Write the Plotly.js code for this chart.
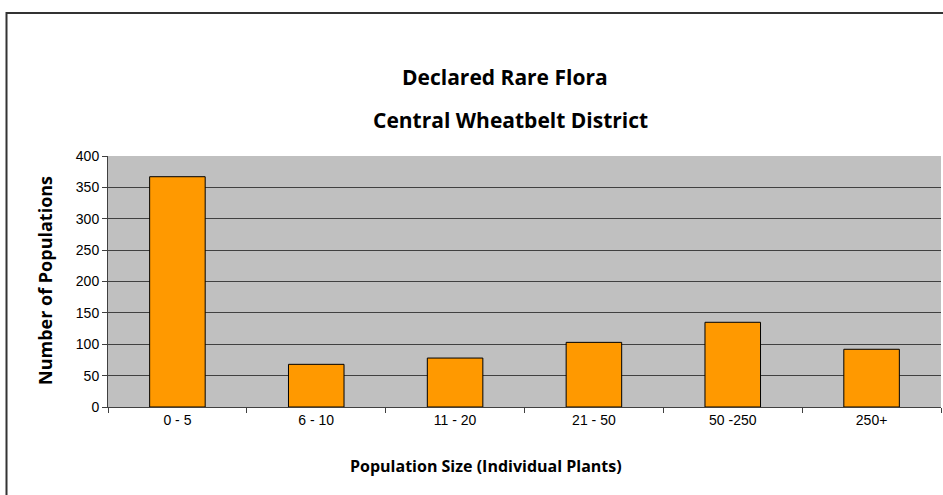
<!DOCTYPE html>
<html>
<head>
<meta charset="utf-8">
<script src="https://cdn.plot.ly/plotly-3.0.1.min.js"></script>
<style>
html,body{margin:0;padding:0;background:#fff;}
#chart{width:943px;height:495px;}
</style>
</head>
<body>
<div id="chart"></div>
<script>
const categories = ["0 - 5", "6 - 10", "11 - 20", "21 - 50", "50 -250", "250+"];
const populations = [367, 68, 78, 103, 135, 92];
const yTicks = [0, 50, 100, 150, 200, 250, 300, 350, 400];

const L = 108, R = 941, T = 156, B = 407, W = 943, H = 495;
const pw = R - L, ph = B - T;
const px = x => (x - L) / pw;
const py = y => (B - y) / ph;

const trace = {
  type: 'bar',
  x: categories,
  y: populations,
  marker: {color: '#FF9900', line: {color: '#000000', width: 1}},
  hoverinfo: 'x+y'
};

const titleFont = 'Open Sans, Lato, sans-serif';
const layout = {
  width: W, height: H,
  margin: {l: L, r: W - R, t: T, b: H - B, pad: 0},
  paper_bgcolor: '#ffffff',
  plot_bgcolor: '#C0C0C0',
  bargap: 0.6,
  showlegend: false,
  font: {family: 'Liberation Sans, Arial, sans-serif', size: 14, color: '#000'},
  xaxis: {
    type: 'category',
    tickson: 'boundaries',
    ticks: 'outside', ticklen: 5, tickcolor: '#404040', tickwidth: 1,
    showline: true, linecolor: '#404040', linewidth: 1,
    showgrid: false,
    tickfont: {family: 'Liberation Sans, Arial, sans-serif', size: 14},
    automargin: false
  },
  yaxis: {
    range: [0, 400],
    tickvals: yTicks,
    ticktext: yTicks.map(String),
    ticks: 'outside', ticklen: 5, tickcolor: '#404040', tickwidth: 1,
    showline: true, linecolor: '#404040', linewidth: 1,
    showgrid: true, gridcolor: '#404040', gridwidth: 1,
    zeroline: false,
    tickfont: {family: 'Liberation Sans, Arial, sans-serif', size: 14},
    automargin: false
  },
  annotations: [
    {text: '<b>Declared Rare Flora</b>', xref: 'paper', yref: 'paper', x: px(505), y: py(77),
     xanchor: 'center', yanchor: 'middle', showarrow: false,
     font: {family: titleFont, size: 21, color: '#000'}},
    {text: '<b>Central Wheatbelt District</b>', xref: 'paper', yref: 'paper', x: px(510), y: py(120),
     xanchor: 'center', yanchor: 'middle', showarrow: false,
     font: {family: titleFont, size: 21, color: '#000'}},
    {text: '<b>Population Size (Individual Plants)</b>', xref: 'paper', yref: 'paper', x: px(486), y: py(466),
     xanchor: 'center', yanchor: 'middle', showarrow: false,
     font: {family: titleFont, size: 16, color: '#000'}},
    {text: '<b>Number of Populations</b>', xref: 'paper', yref: 'paper', x: px(45), y: py(281),
     xanchor: 'center', yanchor: 'middle', showarrow: false, textangle: -90,
     font: {family: titleFont, size: 18, color: '#000'}}
  ],
  shapes: [
    {type: 'path', xref: 'paper', yref: 'paper',
     path: `M ${px(6.5)} ${py(520)} L ${px(6.5)} ${py(13)} L ${px(960)} ${py(13)}`,
     line: {color: '#333333', width: 2}, layer: 'above'}
  ]
};

Plotly.newPlot('chart', [trace], layout, {displayModeBar: false, staticPlot: true});
</script>
</body>
</html>
